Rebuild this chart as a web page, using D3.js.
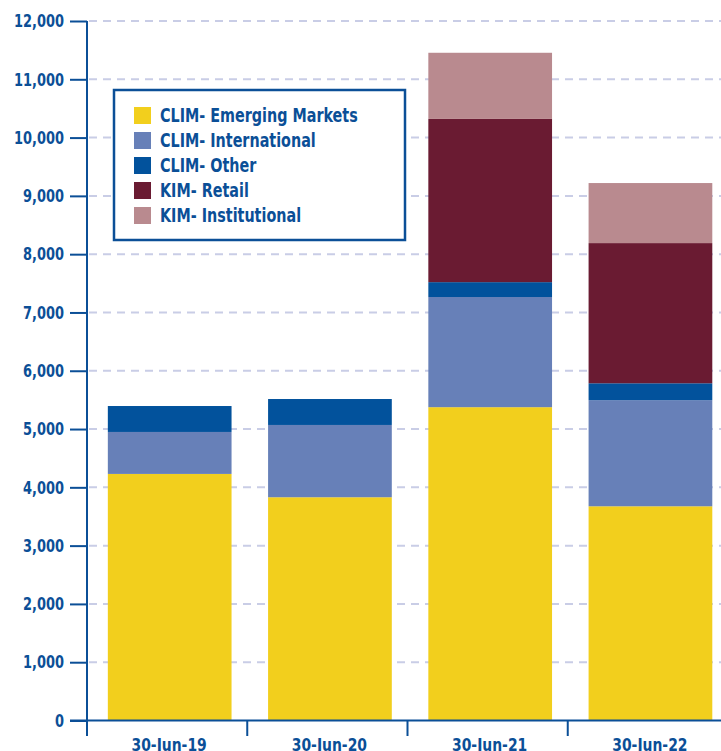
<!DOCTYPE html>
<html>
<head>
<meta charset="utf-8">
<script src="https://cdn.jsdelivr.net/npm/d3@7"></script>
<style>
  body { margin: 0; background: #fff; }
  text { font-family: "Liberation Sans Narrow", "DejaVu Sans Condensed", sans-serif; font-weight: bold; fill: #0b4f97; }
</style>
</head>
<body>
<div id="chart"></div>
<script>
// values, AUM by date
var dates = ["30-Jun-19", "30-Jun-20", "30-Jun-21", "30-Jun-22"];
var seriesNames = ["CLIM- Emerging Markets", "CLIM- International", "CLIM- Other", "KIM- Retail", "KIM- Institutional"];
var seriesColors = ["#f2cf1d", "#6780b8", "#02529c", "#6a1b32", "#b98a8f"];
var emergingMarkets = [4230, 3830, 5375, 3675];
var international = [720, 1240, 1890, 1820];
var other = [445, 445, 255, 290];
var kimRetail = [0, 0, 2800, 2405];
var kimInstitutional = [0, 0, 1135, 1030];
var yTicks = [0, 1000, 2000, 3000, 4000, 5000, 6000, 7000, 8000, 9000, 10000, 11000, 12000];

var width = 721, height = 751;
var squeeze = 0.8; // DejaVu condensed is still wider than the original face

var svg = d3.select("#chart")
    .append("svg")
    .attr("width", width)
    .attr("height", height);

var rows = dates.map(function (d, i) {
    return {
        date: d,
        s0: emergingMarkets[i],
        s1: international[i],
        s2: other[i],
        s3: kimRetail[i],
        s4: kimInstitutional[i]
    };
});
var stack = d3.stack().keys(["s0", "s1", "s2", "s3", "s4"])(rows);

var y = d3.scaleLinear().domain([0, 12000]).range([720.5, 21]);
var x = d3.scaleBand().domain(dates).range([87, 728]).padding(0);

// dashed gridlines
svg.append("g")
    .selectAll("line")
    .data(yTicks.slice(1))
    .enter()
    .append("line")
    .attr("x1", 89)
    .attr("x2", width)
    .attr("y1", function (d) { return y(d); })
    .attr("y2", function (d) { return y(d); })
    .style("stroke", "#c9cde6")
    .style("stroke-width", 2)
    .style("stroke-dasharray", "8,6");

// bars
var barOff = x.bandwidth() * 0.13;
var barW = x.bandwidth() * 0.772;
svg.append("g")
    .selectAll("g")
    .data(stack)
    .enter()
    .append("g")
    .style("fill", function (d, i) { return seriesColors[i]; })
    .selectAll("rect")
    .data(function (d) { return d.filter(function (p) { return p[1] > p[0]; }); })
    .enter()
    .append("rect")
    .attr("x", function (d) { return x(d.data.date) + barOff; })
    .attr("width", barW)
    .attr("y", function (d) { return y(d[1]); })
    .attr("height", function (d) { return y(d[0]) - y(d[1]); });

// y axis
var yAxis = d3.axisLeft(y)
    .tickValues(yTicks)
    .tickSize(17)
    .tickPadding(6)
    .tickFormat(d3.format(","));
var gy = svg.append("g")
    .attr("transform", "translate(87,0)")
    .call(yAxis);
gy.select(".domain").remove();
gy.selectAll(".tick line").style("stroke", "#0b4f97").style("stroke-width", 2);
gy.selectAll(".tick text")
    .attr("x", -23 / squeeze)
    .attr("transform", "scale(" + squeeze + ",1)")
    .attr("font-size", 18)
    .style("font-family", null)
    .style("font-weight", "bold")
    .attr("fill", "#0b4f97");

svg.append("line")
    .attr("x1", 87).attr("x2", 87)
    .attr("y1", y(12000)).attr("y2", 736)
    .style("stroke", "#0b4f97").style("stroke-width", 2);

// x axis
svg.append("line")
    .attr("x1", 70).attr("x2", width)
    .attr("y1", y(0)).attr("y2", y(0))
    .style("stroke", "#0b4f97").style("stroke-width", 2);
svg.append("g")
    .selectAll("line")
    .data(dates.slice(1))
    .enter()
    .append("line")
    .attr("x1", function (d) { return x(d); })
    .attr("x2", function (d) { return x(d); })
    .attr("y1", y(0))
    .attr("y2", 736)
    .style("stroke", "#0b4f97").style("stroke-width", 2);
svg.append("g")
    .selectAll("text")
    .data(dates)
    .enter()
    .append("text")
    .attr("transform", function (d) {
        return "translate(" + (x(d) + x.bandwidth() / 2 + 2) + ",751) scale(0.86,1)";
    })
    .attr("text-anchor", "middle")
    .attr("font-size", 18)
    .text(function (d) { return d; });

// legend
var legend = svg.append("g");
legend.append("rect")
    .attr("x", 114).attr("y", 90)
    .attr("width", 291).attr("height", 150)
    .style("fill", "#fff")
    .style("stroke", "#0b4f97")
    .style("stroke-width", 2.5);
var items = legend.selectAll("g.item")
    .data(seriesNames)
    .enter()
    .append("g")
    .attr("transform", function (d, i) { return "translate(134," + (107 + i * 25) + ")"; });
items.append("rect")
    .attr("width", 17).attr("height", 17)
    .style("fill", function (d, i) { return seriesColors[i]; });
items.append("text")
    .attr("transform", "translate(26,15) scale(0.84,1)")
    .attr("font-size", 19)
    .text(function (d) { return d; });
</script>
</body>
</html>
